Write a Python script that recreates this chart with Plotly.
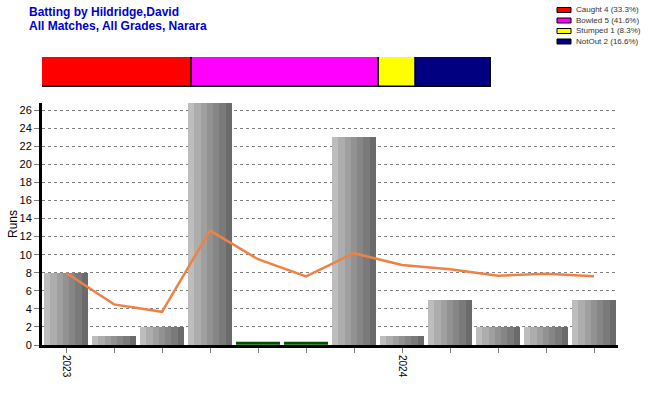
import numpy as np
import plotly.graph_objects as go

# ---- data ----
innings = list(range(12))
runs = [8, 1, 2, 27, 0, 0, 23, 1, 5, 2, 2, 5]
running_avg = [8.0, 4.5, 3.67, 12.67, 9.5, 7.6, 10.17, 8.86, 8.38, 7.67, 7.89, 7.6]
tick_text = ["2023", "", "", "", "", "", "", "2024", "", "", "", ""]

dismissal_labels = ["Caught 4 (33.3%)", "Bowled 5 (41.6%)", "Stumped 1 (8.3%)", "NotOut 2 (16.6%)"]
dismissal_counts = [4, 5, 1, 2]
dismissal_colors = ["#FF0000", "#FF00FF", "#FFFF00", "#000080"]

title_lines = ["Batting by Hildridge,David", "All Matches, All Grades, Narara"]

# ---- style ----
W, H = 650, 400
ML, MR, MT, MB = 42, 32, 50, 55
PW, PH = W - ML - MR, H - MT - MB
FONT = "Arial, Liberation Sans, sans-serif"
stripe_colors = ["#bdbdbd", "#adadad", "#9f9f9f", "#929292", "#868686", "#7a7a7a", "#6b6b6b"]
BAR_W = 0.92
ZERO_MARK = 0.2


def px_x(p):
    return (p - ML) / PW


def px_y(p):
    return (H - MB - p) / PH


fig = go.Figure()

# striped grey bars
n = len(stripe_colors)
sw = BAR_W / n
for i, c in enumerate(stripe_colors):
    fig.add_trace(go.Bar(
        x=innings, y=runs, width=[sw] * len(runs), offset=-BAR_W / 2 + i * sw,
        marker=dict(color=c, line=dict(width=0)), showlegend=False,
        cliponaxis=False, hoverinfo="skip", xaxis="x", yaxis="y"))

# zero-run innings marks
zx = [x for x, r in zip(innings, runs) if r == 0]
fig.add_trace(go.Scatter(
    x=zx, y=[ZERO_MARK] * len(zx), mode="markers",
    marker=dict(symbol="line-ew", size=31.5, line=dict(width=3, color="#005000")),
    showlegend=False, cliponaxis=False, xaxis="x", yaxis="y"))

# running average line
fig.add_trace(go.Scatter(
    x=innings, y=running_avg, mode="lines",
    line=dict(color="#EE8246", width=2.5), showlegend=False,
    xaxis="x", yaxis="y"))

# dismissal breakdown bar
starts = np.concatenate([[0], np.cumsum(dismissal_counts)[:-1]])
for lab, cnt, st, col in zip(dismissal_labels, dismissal_counts, starts, dismissal_colors):
    fig.add_trace(go.Bar(
        y=[0], x=[cnt], base=[st], orientation="h", width=[1],
        marker=dict(color=col, line=dict(color="black", width=1.5)),
        showlegend=False, name=lab, xaxis="x2", yaxis="y2"))

# manual legend
rows_y = [10, 20.5, 31, 41.5]
for lab, col, ry in zip(dismissal_labels, dismissal_colors, rows_y):
    fig.add_shape(type="rect", xref="paper", yref="paper",
                  x0=px_x(557), x1=px_x(571), y0=px_y(ry - 2.5), y1=px_y(ry + 2.5),
                  fillcolor=col, line=dict(color="black", width=1))
    fig.add_annotation(xref="paper", yref="paper", x=px_x(574), y=px_y(ry),
                       text=lab, showarrow=False, xanchor="left", yanchor="middle",
                       font=dict(family=FONT, size=8, color="#333333"))

# title lines
for txt, ty in zip(title_lines, [12, 26]):
    fig.add_annotation(xref="paper", yref="paper", x=px_x(27), y=px_y(ty),
                       text="<b>" + txt + "</b>", showarrow=False,
                       xanchor="left", yanchor="middle",
                       font=dict(family=FONT, size=12, color="#0000CC"))

fig.update_layout(
    width=W, height=H,
    margin=dict(l=ML, r=MR, t=MT, b=MB, autoexpand=False),
    paper_bgcolor="white", plot_bgcolor="white",
    barmode="overlay", bargap=0,
    font=dict(family=FONT, size=11, color="black"),
    xaxis=dict(domain=[0, 1], range=[-0.5, 11.5], tickmode="array",
               tickvals=innings, ticktext=tick_text, tickangle=90,
               ticks="outside", ticklen=5, tickcolor="#808080",
               showline=True, linewidth=3, linecolor="black",
               showgrid=False, zeroline=False, anchor="y",
               tickfont=dict(size=10)),
    yaxis=dict(domain=[0, px_y(103)], range=[0, 26.8], tickvals=list(range(0, 27, 2)),
               ticks="outside", ticklen=5, tickcolor="#808080",
               showline=True, linewidth=3, linecolor="black",
               showgrid=True, gridcolor="#808080", griddash="3px,3px", gridwidth=1,
               zeroline=False, anchor="x",
               title=dict(text="Runs", standoff=0, font=dict(size=12))),
    xaxis2=dict(domain=[0, px_x(491)], range=[0, sum(dismissal_counts)], visible=False,
                anchor="y2", fixedrange=True),
    yaxis2=dict(domain=[px_y(87), px_y(57)], range=[-0.5, 0.5], visible=False,
                anchor="x2", fixedrange=True),
)

fig.write_html("out.html", config={"displayModeBar": False},
               post_script="document.body.style.margin='0';document.body.style.overflow='hidden';")
